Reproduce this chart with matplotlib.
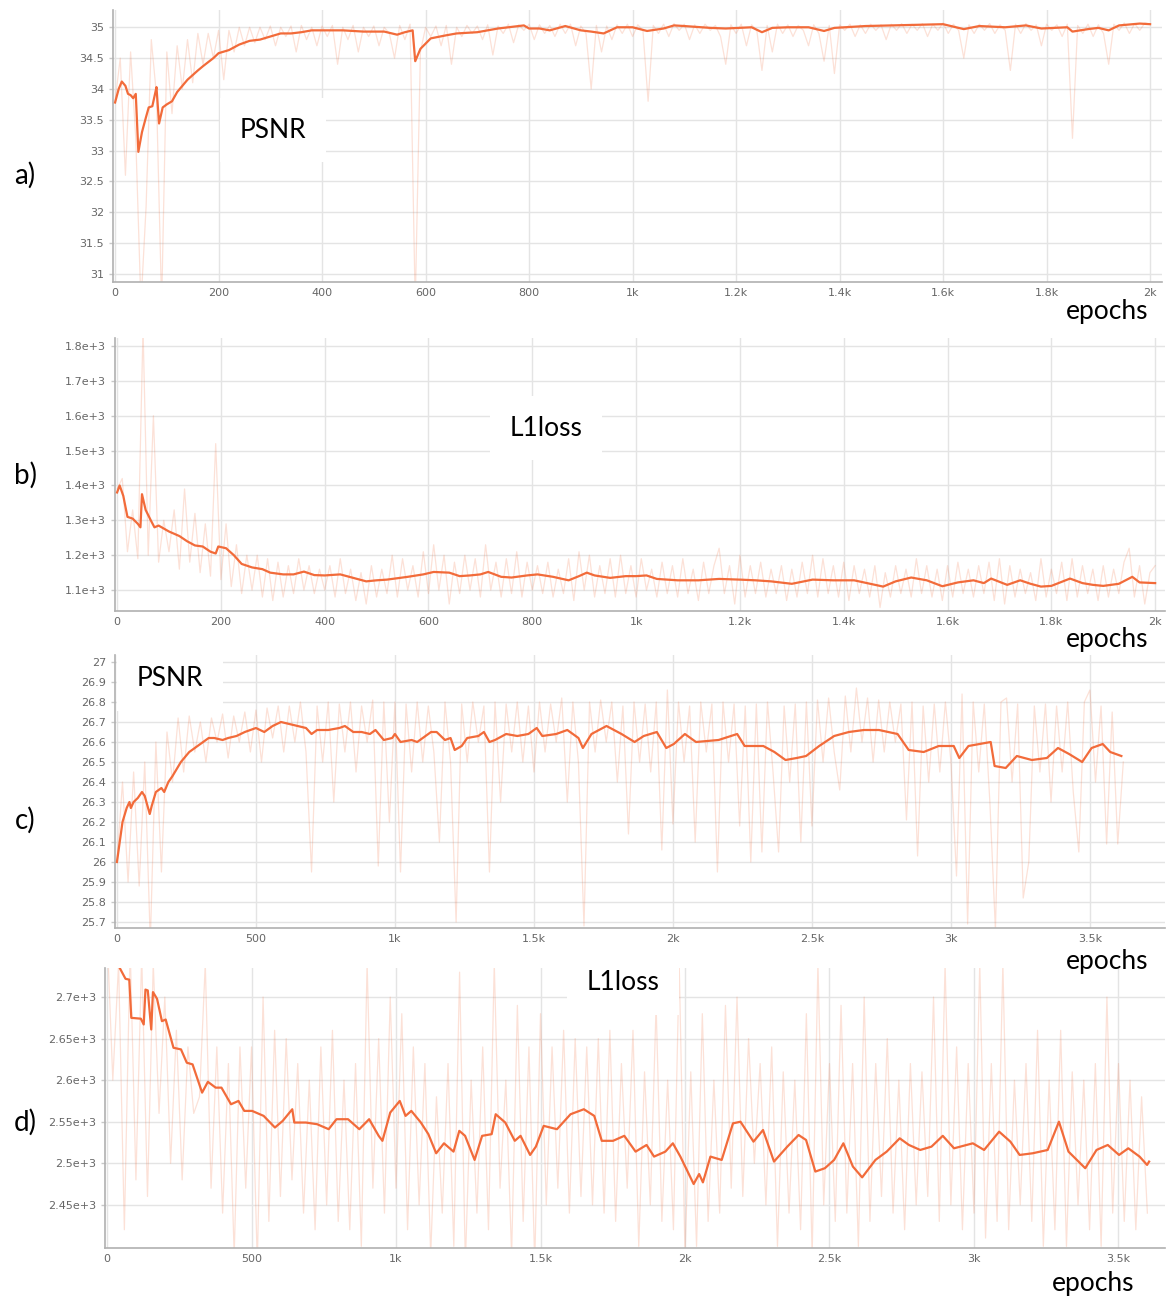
import numpy as np
import matplotlib.pyplot as plt
from matplotlib.ticker import FixedLocator

plt.rcParams['font.family'] = ['DejaVu Sans']

# ---------------- a) PSNR, 2k epochs ----------------
a_raw_epochs = list(range(0, 2001, 10))
a_raw = [33.8, 34.5, 32.6, 34.6, 33.2, 30.5, 32.1, 34.8, 33.9, 30.5,
         34.6, 33.6, 34.7, 34.0, 34.8, 34.1, 34.9, 34.4, 34.9, 34.5,
         34.95, 34.15, 34.95, 34.6, 35.0, 34.7, 35.0, 34.75, 35.0, 34.8,
         35.02, 34.7, 35.0, 34.85, 35.02, 34.6, 35.03, 34.8, 35.0, 34.7,
         35.02, 34.85, 35.03, 34.4, 35.0, 34.8, 35.03, 34.6, 35.0, 34.85,
         35.02, 34.7, 35.0, 34.9, 34.5, 35.03, 34.8, 35.05, 30.5, 34.6,
         35.0, 34.85, 35.02, 34.7, 35.03, 34.4, 35.0, 34.85, 35.03, 34.9,
         35.02, 34.8, 35.04, 34.55, 35.02, 34.9, 35.05, 34.75, 35.04, 34.95,
         35.05, 34.8, 35.04, 34.9, 35.03, 34.85, 35.05, 34.9, 35.05, 34.7,
         35.02, 34.9, 34.0, 35.03, 34.6, 35.02, 34.8, 35.04, 34.9, 35.05,
         34.85, 35.04, 34.95, 33.8, 35.03, 34.9, 35.05, 34.85, 35.06, 34.95,
         35.05, 34.8, 35.04, 34.9, 35.05, 34.95, 35.03, 34.85, 34.4, 35.04,
         34.9, 35.05, 34.7, 35.04, 34.95, 34.3, 35.03, 34.6, 35.05, 34.9,
         35.04, 34.85, 35.03, 34.95, 34.7, 35.04, 34.9, 34.45, 35.03, 34.25,
         35.04, 34.95, 35.05, 34.85, 35.04, 34.9, 35.05, 34.95, 35.04, 34.8,
         35.05, 34.95, 35.06, 34.9, 35.05, 34.95, 35.06, 34.85, 35.05, 34.95,
         35.07, 34.9, 35.05, 34.95, 34.5, 35.04, 34.9, 35.05, 34.95, 35.06,
         34.9, 35.04, 34.95, 34.3, 35.05, 34.9, 35.06, 34.95, 35.04, 34.7,
         35.05, 34.95, 35.04, 34.85, 35.05, 33.2, 35.03, 34.9, 35.05, 34.85,
         35.04, 34.9, 34.4, 35.05, 34.95, 35.07, 34.9, 35.06, 34.95, 35.07,
         35.05]
a_smooth_epochs = [0, 7, 13, 20, 25, 30, 35, 40, 45, 52, 60, 65, 72, 78, 80, 85,
                   92, 100, 110, 120, 140, 160, 170, 190, 200, 220, 240, 260, 280,
                   300, 320, 340, 360, 380, 400, 440, 480, 520, 545, 560, 575, 580,
                   590, 610, 640, 660, 700, 720, 740, 760, 790, 800, 820, 840, 870,
                   900, 920, 944, 970, 1000, 1028, 1060, 1080, 1100, 1150, 1180,
                   1230, 1250, 1270, 1300, 1340, 1370, 1390, 1450, 1500, 1550,
                   1600, 1640, 1670, 1720, 1760, 1790, 1840, 1850, 1880, 1900,
                   1920, 1940, 1980, 2000]
a_smooth = [33.78, 34.0, 34.12, 34.05, 33.92, 33.9, 33.85, 33.92, 32.98, 33.3,
            33.55, 33.7, 33.72, 33.95, 34.03, 33.44, 33.7, 33.75, 33.8, 33.95,
            34.15, 34.3, 34.37, 34.5, 34.58, 34.63, 34.72, 34.78, 34.8, 34.85,
            34.9, 34.9, 34.92, 34.95, 34.95, 34.95, 34.93, 34.93, 34.88, 34.92,
            34.95, 34.45, 34.65, 34.82, 34.87, 34.9, 34.92, 34.95, 34.98, 35.0,
            35.03, 34.98, 34.98, 34.95, 35.02, 34.95, 34.93, 34.9, 35.0, 35.0,
            34.94, 34.98, 35.03, 35.02, 34.99, 34.98, 35.0, 34.92, 34.99, 35.0,
            35.0, 34.94, 34.99, 35.02, 35.03, 35.04, 35.05, 34.97, 35.02, 35.0,
            35.03, 34.98, 35.0, 34.93, 34.97, 34.99, 34.95, 35.03, 35.06, 35.05]
a_yticks = [31, 31.5, 32, 32.5, 33, 33.5, 34, 34.5, 35]
a_ytick_labels = ['31', '31.5', '32', '32.5', '33', '33.5', '34', '34.5', '35']
a_xticks = [0, 200, 400, 600, 800, 1000, 1200, 1400, 1600, 1800, 2000]
a_xtick_labels = ['0', '200', '400', '600', '800', '1k', '1.2k', '1.4k', '1.6k', '1.8k', '2k']

# ---------------- b) L1loss, 2k epochs ----------------
b_raw_epochs = list(range(0, 2001, 10))
b_raw = [1390, 1420, 1210, 1330, 1190, 1850, 1200, 1600, 1180, 1300,
         1210, 1330, 1160, 1390, 1180, 1320, 1150, 1290, 1140, 1520,
         1130, 1290, 1110, 1230, 1090, 1200, 1100, 1200, 1080, 1190,
         1070, 1180, 1080, 1170, 1090, 1190, 1100, 1170, 1090, 1160,
         1100, 1170, 1080, 1190, 1090, 1160, 1070, 1150, 1060, 1170,
         1080, 1160, 1090, 1200, 1080, 1190, 1100, 1170, 1080, 1210,
         1090, 1230, 1100, 1200, 1060, 1180, 1090, 1200, 1100, 1190,
         1080, 1230, 1100, 1180, 1080, 1190, 1090, 1210, 1080, 1180,
         1100, 1170, 1090, 1180, 1080, 1160, 1090, 1190, 1070, 1210,
         1100, 1200, 1080, 1170, 1090, 1190, 1080, 1200, 1090, 1170,
         1080, 1190, 1100, 1160, 1080, 1180, 1090, 1170, 1080, 1190,
         1090, 1160, 1070, 1180, 1090, 1170, 1220, 1090, 1170, 1060,
         1200, 1080, 1170, 1090, 1180, 1080, 1160, 1090, 1170, 1070,
         1160, 1080, 1180, 1090, 1200, 1080, 1190, 1090, 1170, 1080,
         1180, 1070, 1170, 1090, 1160, 1080, 1170, 1050, 1150, 1080,
         1170, 1090, 1160, 1080, 1190, 1090, 1170, 1080, 1160, 1070,
         1170, 1080, 1180, 1090, 1160, 1080, 1170, 1090, 1180, 1070,
         1190, 1060, 1170, 1080, 1160, 1090, 1150, 1070, 1190, 1080,
         1160, 1090, 1180, 1070, 1190, 1080, 1170, 1090, 1160, 1070,
         1170, 1080, 1160, 1090, 1180, 1220, 1080, 1170, 1060, 1150,
         1170]
b_smooth_epochs = [0, 5, 12, 20, 30, 40, 45, 48, 55, 65, 72, 80, 100, 120, 135,
                   150, 165, 180, 190, 195, 210, 225, 240, 260, 280, 295, 320,
                   340, 360, 380, 400, 430, 460, 480, 500, 520, 560, 590, 610,
                   640, 660, 680, 700, 715, 740, 760, 790, 810, 840, 870, 890,
                   905, 920, 950, 980, 1000, 1020, 1040, 1080, 1120, 1160, 1200,
                   1230, 1260, 1300, 1340, 1380, 1420, 1476, 1500, 1530, 1560,
                   1590, 1620, 1650, 1670, 1684, 1715, 1740, 1760, 1780, 1800,
                   1836, 1860, 1880, 1900, 1930, 1956, 1970, 2000]
b_smooth = [1380, 1400, 1370, 1310, 1305, 1290, 1280, 1375, 1330, 1300, 1280,
            1285, 1268, 1255, 1240, 1228, 1225, 1210, 1205, 1225, 1220, 1200,
            1175, 1165, 1160, 1150, 1145, 1145, 1153, 1143, 1142, 1145, 1133,
            1125, 1128, 1130, 1138, 1145, 1152, 1150, 1140, 1142, 1145, 1152,
            1138, 1136, 1142, 1145, 1138, 1128, 1140, 1150, 1142, 1135, 1140,
            1140, 1142, 1132, 1128, 1128, 1132, 1130, 1128, 1125, 1118, 1130,
            1128, 1128, 1110, 1125, 1136, 1128, 1111, 1122, 1128, 1120, 1133,
            1115, 1128, 1118, 1110, 1112, 1133, 1120, 1115, 1112, 1118, 1138,
            1122, 1120]
b_yticks = [1100, 1200, 1300, 1400, 1500, 1600, 1700, 1800]
b_ytick_labels = ['1.1e+3', '1.2e+3', '1.3e+3', '1.4e+3', '1.5e+3', '1.6e+3', '1.7e+3', '1.8e+3']
b_xticks = a_xticks
b_xtick_labels = a_xtick_labels

# ---------------- c) PSNR, 3.6k epochs ----------------
c_raw_epochs = list(range(0, 3621, 20))
c_raw = [26.0, 26.4, 25.9, 26.45, 25.88, 26.5, 25.6, 26.6, 25.95, 26.65,
         26.4, 26.72, 26.45, 26.73, 26.55, 26.7, 26.5, 26.72, 26.6, 26.74,
         26.52, 26.73, 26.6, 26.75, 26.55, 26.76, 26.5, 26.77, 26.62, 26.78,
         26.55, 26.78, 26.6, 26.8, 26.55, 25.95, 26.78, 26.5, 26.8, 26.3,
         26.79, 26.55, 26.8, 26.45, 26.78, 26.6, 26.81, 25.98, 26.8, 26.2,
         26.8, 25.95, 26.79, 26.45, 26.8, 26.5, 26.78, 26.55, 26.1, 26.8,
         26.5, 25.7, 26.79, 26.5, 26.8, 26.6, 26.78, 25.95, 26.8, 26.3,
         26.79, 26.55, 26.8, 26.5, 26.78, 26.45, 26.8, 26.55, 26.79, 26.6,
         26.82, 26.3, 26.8, 26.5, 25.68, 26.8, 26.55, 26.81, 26.6, 26.8,
         26.4, 26.78, 26.14, 26.8, 26.5, 26.79, 26.45, 26.8, 26.06, 26.86,
         26.19, 26.8, 26.5, 26.78, 26.1, 26.8, 26.55, 26.79, 25.95, 26.8,
         26.5, 26.79, 26.18, 26.78, 26.0, 26.79, 26.05, 26.8, 26.45, 26.05,
         26.78, 26.4, 26.79, 26.1, 26.8, 26.18, 26.81, 26.5, 26.82, 26.55,
         26.36, 26.83, 26.55, 26.87, 26.6, 26.82, 26.5, 26.81, 26.55, 26.8,
         26.6, 26.79, 26.21, 26.8, 26.03, 26.78, 26.4, 26.79, 26.45, 26.8,
         26.5, 25.93, 26.84, 25.69, 26.8, 26.45, 26.79, 26.3, 25.66, 26.8,
         26.82, 26.4, 26.79, 25.82, 26.0, 26.78, 26.45, 26.79, 26.3, 26.78,
         26.45, 26.8, 26.35, 26.05, 26.8, 26.86, 26.4, 26.78, 26.09, 26.75,
         26.09, 26.5]
c_smooth_epochs = [0, 10, 20, 35, 45, 50, 60, 75, 90, 100, 118, 125, 140, 160,
                   170, 185, 200, 230, 260, 290, 310, 330, 350, 380, 400, 430,
                   460, 480, 500, 530, 560, 590, 620, 650, 680, 700, 720, 760,
                   800, 820, 850, 880, 910, 930, 960, 990, 1000, 1020, 1060,
                   1080, 1100, 1130, 1150, 1180, 1200, 1215, 1240, 1260, 1300,
                   1320, 1340, 1360, 1400, 1440, 1480, 1510, 1530, 1580, 1620,
                   1660, 1676, 1707, 1761, 1815, 1862, 1895, 1942, 1976, 2003,
                   2043, 2083, 2164, 2231, 2258, 2325, 2365, 2405, 2445, 2479,
                   2526, 2580, 2633, 2687, 2741, 2808, 2848, 2902, 2956, 3010,
                   3030, 3063, 3143, 3157, 3197, 3237, 3291, 3345, 3385, 3425,
                   3472, 3506, 3546, 3573, 3613]
c_smooth = [26.0, 26.1, 26.2, 26.27, 26.3, 26.27, 26.3, 26.32, 26.35, 26.33,
            26.24, 26.28, 26.35, 26.37, 26.35, 26.4, 26.43, 26.5, 26.55, 26.58,
            26.6, 26.62, 26.62, 26.61, 26.62, 26.63, 26.65, 26.66, 26.67, 26.65,
            26.68, 26.7, 26.69, 26.68, 26.67, 26.64, 26.66, 26.66, 26.67, 26.68,
            26.65, 26.65, 26.64, 26.66, 26.61, 26.62, 26.64, 26.6, 26.61, 26.6,
            26.62, 26.65, 26.65, 26.61, 26.62, 26.56, 26.58, 26.62, 26.63, 26.65,
            26.6, 26.61, 26.64, 26.63, 26.64, 26.67, 26.63, 26.64, 26.66, 26.62,
            26.57, 26.64, 26.68, 26.64, 26.6, 26.63, 26.65, 26.57, 26.59, 26.64,
            26.6, 26.61, 26.64, 26.58, 26.58, 26.55, 26.51, 26.52, 26.53, 26.58,
            26.63, 26.65, 26.66, 26.66, 26.64, 26.56, 26.55, 26.58, 26.58, 26.52,
            26.58, 26.6, 26.48, 26.47, 26.53, 26.51, 26.52, 26.57, 26.54, 26.5,
            26.57, 26.59, 26.55, 26.53]
c_yticks = [25.7, 25.8, 25.9, 26.0, 26.1, 26.2, 26.3, 26.4, 26.5, 26.6, 26.7, 26.8, 26.9, 27.0]
c_ytick_labels = ['25.7', '25.8', '25.9', '26', '26.1', '26.2', '26.3', '26.4',
                  '26.5', '26.6', '26.7', '26.8', '26.9', '27']
c_xticks = [0, 500, 1000, 1500, 2000, 2500, 3000, 3500]
c_xtick_labels = ['0', '500', '1k', '1.5k', '2k', '2.5k', '3k', '3.5k']

# ---------------- d) L1loss, 3.6k epochs ----------------
d_raw_epochs = list(range(0, 3601, 20))
d_raw = [2780, 2600, 2740, 2420, 2760, 2480, 2750, 2460, 2740, 2560,
         2700, 2500, 2660, 2480, 2640, 2560, 2580, 2740, 2470, 2640,
         2440, 2620, 2390, 2640, 2470, 2640, 2380, 2700, 2430, 2660,
         2460, 2650, 2480, 2620, 2440, 2600, 2420, 2640, 2450, 2660,
         2430, 2600, 2420, 2620, 2400, 2740, 2470, 2650, 2440, 2700,
         2470, 2680, 2420, 2640, 2450, 2620, 2390, 2580, 2440, 2620,
         2400, 2730, 2380, 2600, 2440, 2640, 2420, 2740, 2470, 2600,
         2390, 2690, 2430, 2640, 2380, 2680, 2450, 2640, 2470, 2660,
         2440, 2650, 2460, 2640, 2450, 2650, 2440, 2660, 2430, 2620,
         2470, 2660, 2400, 2610, 2450, 2690, 2430, 2600, 2420, 2740,
         2390, 2610, 2400, 2680, 2430, 2600, 2440, 2690, 2470, 2700,
         2460, 2650, 2500, 2620, 2450, 2640, 2400, 2610, 2440, 2600,
         2420, 2680, 2390, 2740, 2450, 2620, 2430, 2690, 2440, 2620,
         2400, 2700, 2430, 2620, 2460, 2650, 2440, 2600, 2420, 2620,
         2450, 2610, 2460, 2700, 2430, 2740, 2450, 2640, 2420, 2620,
         2440, 2740, 2410, 2620, 2430, 2740, 2420, 2600, 2450, 2620,
         2430, 2660, 2400, 2600, 2420, 2660, 2400, 2610, 2450, 2600,
         2420, 2620, 2400, 2700, 2440, 2620, 2430, 2600, 2420, 2580,
         2440]
d_smooth_epochs = [20, 44, 64, 77, 84, 117, 127, 133, 141, 153, 159, 173, 190,
                   203, 230, 256, 276, 296, 329, 349, 376, 396, 429, 455, 475,
                   502, 542, 581, 608, 641, 648, 688, 727, 767, 794, 834, 873,
                   907, 940, 953, 980, 1013, 1033, 1053, 1086, 1112, 1139, 1166,
                   1199, 1219, 1239, 1272, 1298, 1331, 1345, 1378, 1411, 1431,
                   1464, 1484, 1511, 1557, 1604, 1650, 1686, 1712, 1751, 1790,
                   1829, 1867, 1893, 1932, 1958, 1984, 2030, 2049, 2062, 2088,
                   2127, 2166, 2192, 2237, 2270, 2308, 2354, 2393, 2419, 2451,
                   2484, 2516, 2548, 2581, 2613, 2659, 2698, 2743, 2775, 2814,
                   2853, 2892, 2931, 2996, 3035, 3087, 3126, 3158, 3203, 3255,
                   3294, 3327, 3385, 3424, 3463, 3502, 3534, 3573, 3599, 3606]
d_smooth = [2760, 2735, 2722, 2721, 2675, 2674, 2667, 2709, 2708, 2661, 2706,
            2698, 2671, 2673, 2639, 2637, 2621, 2619, 2585, 2598, 2591, 2591,
            2571, 2575, 2563, 2563, 2557, 2543, 2551, 2565, 2549, 2549, 2547,
            2541, 2553, 2553, 2541, 2553, 2533, 2527, 2561, 2575, 2557, 2563,
            2549, 2535, 2512, 2524, 2514, 2539, 2533, 2504, 2533, 2535, 2559,
            2549, 2527, 2533, 2510, 2520, 2545, 2541, 2559, 2565, 2557, 2527,
            2527, 2533, 2514, 2522, 2508, 2514, 2524, 2508, 2475, 2487, 2477,
            2508, 2504, 2548, 2550, 2526, 2540, 2502, 2520, 2534, 2528, 2490,
            2494, 2504, 2524, 2496, 2483, 2504, 2514, 2530, 2522, 2516, 2520,
            2533, 2518, 2524, 2516, 2538, 2526, 2510, 2512, 2516, 2550, 2514,
            2494, 2516, 2522, 2510, 2518, 2508, 2498, 2502]
d_yticks = [2450, 2500, 2550, 2600, 2650, 2700]
d_ytick_labels = ['2.45e+3', '2.5e+3', '2.55e+3', '2.6e+3', '2.65e+3', '2.7e+3']
d_xticks = c_xticks
d_xtick_labels = c_xtick_labels

LINE = '#f26b3a'
GRID = '#e4e4e4'
TICK = '#666666'
BIG_FONT = ['Lato', 'DejaVu Sans']


def draw_panel(fig, rect, raw_x, raw_y, sm_x, sm_y, xlim, ylim,
               xticks, xlabels, yticks, ylabels):
    ax = fig.add_axes(rect)
    # faint raw values, then the smoothed curve on top
    ax.plot(raw_x, raw_y, color=LINE, alpha=0.2, lw=0.9, zorder=2)
    ax.plot(sm_x, sm_y, color=LINE, lw=1.6, zorder=3)
    ax.set_xlim(*xlim)
    ax.set_ylim(*ylim)
    ax.xaxis.set_major_locator(FixedLocator(xticks))
    ax.set_xticklabels(xlabels)
    ax.yaxis.set_major_locator(FixedLocator(yticks))
    ax.set_yticklabels(ylabels)
    ax.grid(True, color=GRID, lw=1.0, zorder=0)
    ax.set_axisbelow(True)
    for s in ['top', 'right']:
        ax.spines[s].set_visible(False)
    for s in ['left', 'bottom']:
        ax.spines[s].set_color('#b0b0b0')
        ax.spines[s].set_linewidth(1.2)
    ax.tick_params(axis='both', labelsize=8, labelcolor=TICK, color='#c8c8c8',
                   length=3, width=1)
    ax.tick_params(axis='x', length=0, pad=4)
    return ax


W, H = 1167, 1298
fig = plt.figure(figsize=(W / 100, H / 100), dpi=100)


def rect_px(x0, y0, x1, y1):
    return [x0 / W, 1 - y1 / H, (x1 - x0) / W, (y1 - y0) / H]


draw_panel(fig, rect_px(113, 10, 1162, 282), a_raw_epochs, a_raw,
           a_smooth_epochs, a_smooth, (-4, 2023), (30.87, 35.28),
           a_xticks, a_xtick_labels, a_yticks, a_ytick_labels)
draw_panel(fig, rect_px(115, 338, 1165, 611), b_raw_epochs, b_raw,
           b_smooth_epochs, b_smooth, (-4, 2019), (1040, 1823),
           b_xticks, b_xtick_labels, b_yticks, b_ytick_labels)
draw_panel(fig, rect_px(115, 655, 1165, 928), c_raw_epochs, c_raw,
           c_smooth_epochs, c_smooth, (-7, 3770), (25.67, 27.035),
           c_xticks, c_xtick_labels, c_yticks, c_ytick_labels)
draw_panel(fig, rect_px(105, 968, 1165, 1248), d_raw_epochs, d_raw,
           d_smooth_epochs, d_smooth, (-7, 3661), (2398, 2735),
           d_xticks, d_xtick_labels, d_yticks, d_ytick_labels)

# panel letters
for lab, yp in [('a)', 175), ('b)', 475), ('c)', 820), ('d)', 1122)]:
    fig.text(25 / W, 1 - yp / H, lab, fontsize=20, family=BIG_FONT,
             ha='center', va='center')

# x axis names
for xp, yp in [(1107, 311), (1107, 639), (1107, 962), (1093, 1283)]:
    fig.text(xp / W, 1 - yp / H, 'epochs', fontsize=19, family=BIG_FONT,
             ha='center', va='center')

# metric names over the plots
box = dict(facecolor='white', edgecolor='none', pad=14)
for lab, xp, yp in [('PSNR', 273, 130), ('L1loss', 546, 428),
                    ('PSNR', 170, 679), ('L1loss', 623, 983)]:
    fig.text(xp / W, 1 - yp / H, lab, fontsize=19, family=BIG_FONT,
             ha='center', va='center', bbox=box, zorder=10)

fig.savefig('out.png', dpi=100)
